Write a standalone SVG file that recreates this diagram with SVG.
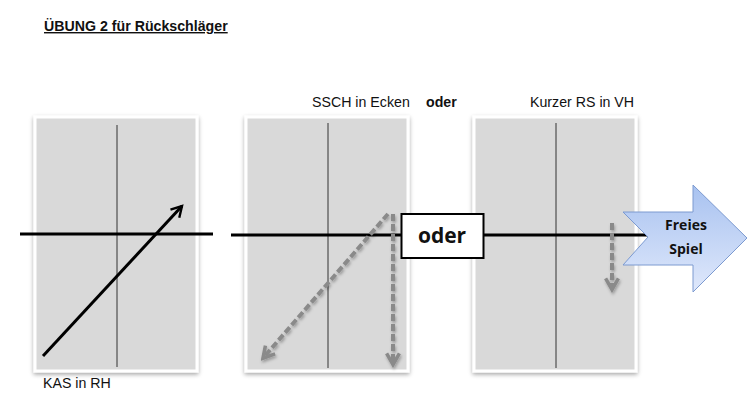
<svg xmlns="http://www.w3.org/2000/svg" width="750" height="404" viewBox="0 0 750 404">
<style>
.lbl{font-family:"Liberation Sans",Arial,sans-serif;font-size:14.2px;fill:#111}
.panel{fill:#d9d9d9;stroke:#fff;stroke-width:3}
.mid{stroke:#333;stroke-width:1}
.net{stroke:#000;stroke-width:3}
.dash{stroke:#8a8a8a;stroke-width:4;stroke-dasharray:7 3;fill:none}
.big{font-family:"Open Sans","Liberation Sans",sans-serif;font-weight:bold;fill:#111}
</style>
<defs>
<filter id="sh" x="-10%" y="-10%" width="120%" height="120%">
<feDropShadow dx="0" dy="2" stdDeviation="2" flood-color="#000" flood-opacity="0.35"/>
</filter>
<filter id="dsh" x="-20%" y="-20%" width="140%" height="140%">
<feDropShadow dx="1" dy="2" stdDeviation="1.5" flood-color="#000" flood-opacity="0.3"/>
</filter>
<marker id="ah" viewBox="0 0 10 10" refX="8" refY="5" markerWidth="5" markerHeight="5" orient="auto" markerUnits="strokeWidth">
<path d="M1,1 L8,5 L1,9" fill="none" stroke="#000" stroke-width="1.6"/>
</marker>
<marker id="gh" viewBox="0 0 10 10" refX="7" refY="5" markerWidth="4" markerHeight="4" orient="auto" markerUnits="strokeWidth">
<path d="M1,1 L8,5 L1,9" fill="none" stroke="#8a8a8a" stroke-width="2.2"/>
</marker>
<linearGradient id="bg" x1="0" y1="0" x2="0" y2="1">
<stop offset="0" stop-color="#a8c2f0"/>
<stop offset="1" stop-color="#dfe8fb"/>
</linearGradient>
</defs>
<rect width="750" height="404" fill="#fff"/>
<g id="title">
<text class="lbl" x="44" y="31" font-weight="bold" font-size="15" text-decoration="underline">ÜBUNG 2 für Rückschläger</text>
</g>
<g id="panel1">
<rect class="panel" x="35" y="117" width="162" height="254" filter="url(#sh)"/>
<line class="mid" x1="117" y1="125" x2="117" y2="367"/>
<text class="lbl" x="43" y="388">KAS in RH</text>
</g>
<g id="panel2">
<rect class="panel" x="246" y="117" width="162" height="254" filter="url(#sh)"/>
<line class="mid" x1="328" y1="123" x2="328" y2="368"/>
<text class="lbl" x="312" y="107">SSCH in Ecken</text>
<text class="lbl" x="426" y="107" font-weight="bold">oder</text>
</g>
<g id="panel3">
<rect class="panel" x="474" y="117" width="162" height="254" filter="url(#sh)"/>
<line class="mid" x1="556" y1="123" x2="556" y2="368"/>
<text class="lbl" x="530" y="107">Kurzer RS in VH</text>
</g>
<g id="connectors">
<line class="net" x1="20" y1="234" x2="213" y2="234"/>
<line class="net" x1="231" y1="235" x2="402" y2="235"/>
<line class="net" x1="484" y1="235" x2="648" y2="235"/>
<line x1="43" y1="356" x2="182" y2="206" stroke="#000" stroke-width="3" marker-end="url(#ah)"/>
<g filter="url(#dsh)">
<line class="dash" x1="388" y1="214" x2="264" y2="357" marker-end="url(#gh)"/>
<line class="dash" x1="393" y1="214" x2="393" y2="363" marker-end="url(#gh)"/>
<line class="dash" x1="612" y1="223" x2="612" y2="288" marker-end="url(#gh)"/>
</g>
</g>
<g id="oder">
<rect x="401.5" y="214" width="82" height="44" fill="#fff" stroke="#000" stroke-width="2"/>
<text class="big" x="442" y="243" font-size="21" text-anchor="middle">oder</text>
</g>
<g id="freies">
<polygon points="623,212 693,212 693,185 747,238 693,292 693,265 623,265 648,237" fill="url(#bg)" stroke="#7c9ad0" stroke-width="1"/>
<text class="big" x="686" y="230" font-size="14" text-anchor="middle">Freies</text>
<text class="big" x="686" y="254" font-size="14" text-anchor="middle">Spiel</text>
</g>
</svg>
